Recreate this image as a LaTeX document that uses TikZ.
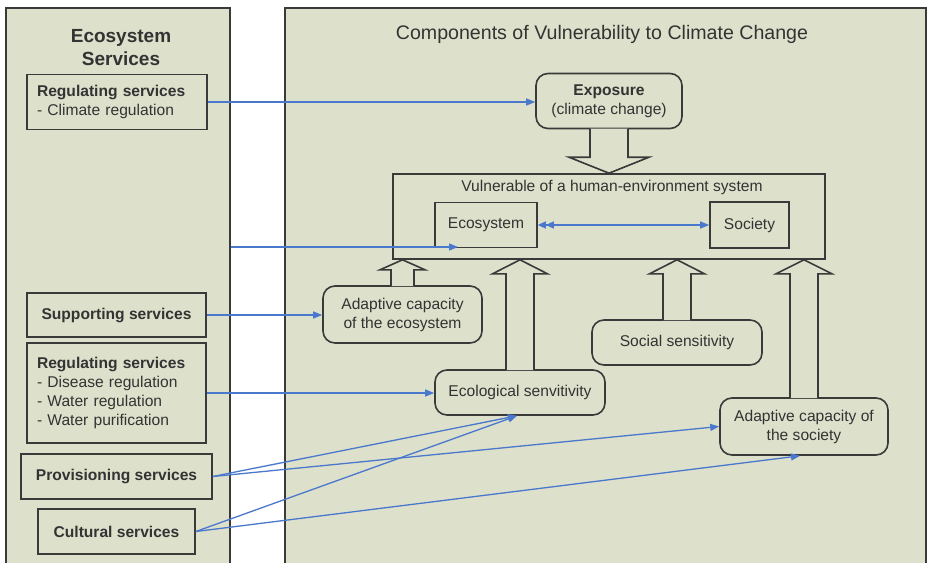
\documentclass[tikz,border=0pt]{standalone}
\usepackage{fontspec}
\setmainfont{Liberation Sans}
\usetikzlibrary{arrows.meta,calc}
\definecolor{panelfill}{HTML}{DDE0CB}
\definecolor{edgecol}{HTML}{3A3A3A}
\definecolor{txtcol}{HTML}{333333}
\definecolor{linkcol}{HTML}{4A78CC}
\newcommand{\BlockUp}[5]{%
  \path[blockarrow] let \p1=(#1.north), \p2=(#2.south) in
    (\x1-#3,\y1-0.8pt) -- (\x1-#3,\y2-#5) -- (\x1-#4,\y2-#5) -- (\x1,\y2)
    -- (\x1+#4,\y2-#5) -- (\x1+#3,\y2-#5) -- (\x1+#3,\y1-0.8pt);}
\begin{document}
\begin{tikzpicture}[x=1pt,y=-1pt,
  panel/.style={draw=edgecol, line width=1.5pt, fill=panelfill, inner sep=0pt},
  sbox/.style={draw=edgecol, line width=1.6pt, fill=panelfill, inner sep=0pt,
    text=txtcol, font=\fontsize{15.6}{19}\selectfont},
  bbox/.style={sbox, font=\bfseries\fontsize{15.6}{19}\selectfont},
  lbox/.style={sbox, align=left, inner xsep=10pt},
  rbox/.style={sbox, rounded corners=12pt, align=center},
  blockarrow/.style={draw=edgecol, line width=1.6pt, fill=panelfill, line join=miter},
  link/.style={draw=linkcol, line width=1.3pt, -{Triangle[length=9pt,width=7pt]}},
]
\useasboundingbox (0,0) rectangle (928,562);
\clip (0,0) rectangle (928,562);
\fill[white] (0,0) rectangle (928,562);

% panels
\node[panel, minimum width=224pt, minimum height=570pt, anchor=north west] (lpanel) at (5,7) {};
\node[panel, minimum width=641pt, minimum height=570pt, anchor=north west] (rpanel) at (284,7) {};

\node[font=\bfseries\fontsize{19}{23}\selectfont, text=txtcol, align=center] (lptitle) at (121,47.5) {Ecosystem\\Services};
\node[font=\fontsize{19.6}{22}\selectfont, text=txtcol] (rptitle) at (602,34) {Components of Vulnerability to Climate Change};

% left boxes
\node[lbox, minimum width=180pt, minimum height=55pt, text width=160pt] (reg1) at (117,102)
  {\textbf{Regulating services}\\- Climate regulation};
\node[bbox, minimum width=179pt, minimum height=44pt] (supp) at (116.5,315) {Supporting services};
\node[lbox, minimum width=179pt, minimum height=100pt, text width=159pt] (reg2) at (116.5,393)
  {\textbf{Regulating services}\\- Disease regulation\\- Water regulation\\- Water purification};
\node[bbox, minimum width=191pt, minimum height=45pt] (prov) at (116.5,476.5) {Provisioning services};
\node[bbox, minimum width=157pt, minimum height=45pt] (cult) at (116.5,531.5) {Cultural services};

% right side
\node[sbox, minimum width=432pt, minimum height=85pt] (vuln) at (609,216.5) {};
\node[text=txtcol, font=\fontsize{15.6}{18}\selectfont] (vulntitle) at (612,187) {Vulnerable of a human-environment system};
\node[sbox, minimum width=102pt, minimum height=45pt] (eco) at (486,225) {Ecosystem};
\node[sbox, minimum width=79pt, minimum height=46pt] (soc) at (749.5,225) {Society};

\node[rbox, minimum width=146pt, minimum height=55pt] (expo) at (609,101) {\textbf{Exposure}\\(climate change)};
\node[rbox, minimum width=159pt, minimum height=57pt] (aceco) at (402.5,314.5) {Adaptive capacity\\of the ecosystem};
\node[rbox, minimum width=170pt, minimum height=45pt] (ecosens) at (520,392.5) {Ecological senvitivity};
\node[rbox, minimum width=170pt, minimum height=45pt] (socsens) at (677,342.5) {Social sensitivity};
\node[rbox, minimum width=168pt, minimum height=57pt] (adsoc) at (804,426.5) {Adaptive capacity of\\the society};

% block arrows
\path[blockarrow] let \p1=(expo.south), \p2=(vuln.north) in
  (\x1-19pt,\y1+0.8pt) -- (\x1-19pt,\y2+16pt) -- (\x1-40pt,\y2+16pt) -- (\x1,\y2)
  -- (\x1+40pt,\y2+16pt) -- (\x1+19pt,\y2+16pt) -- (\x1+19pt,\y1+0.8pt);
\BlockUp{aceco}{vuln}{11.5pt}{22.5pt}{10pt}
\BlockUp{ecosens}{vuln}{14pt}{27.5pt}{14pt}
\BlockUp{socsens}{vuln}{14pt}{27.5pt}{14pt}
\BlockUp{adsoc}{vuln}{14pt}{28pt}{14pt}

% connectors
\coordinate (lpout) at (lpanel.east |- 0,247);
\coordinate (ecoin) at (458,247);
\draw[link] (reg1.east) -- (reg1.east -| expo.west);
\draw[link] (lpout) -- (ecoin);
\draw[link] (supp.east) -- (supp.east -| aceco.west);
\draw[link] (reg2.east) -- (reg2.east -| ecosens.west);
\draw[link, {Triangle[length=8pt,width=7pt] Triangle[length=8pt,width=7pt]}-{Triangle[length=9pt,width=7pt]}] (eco.east) -- (soc.west);
\draw[link] (prov.east) -- ([xshift=-3pt]ecosens.south);
\draw[link] (prov.east) -- (adsoc.west);
\draw[link] (cult.east) -- ([xshift=-3pt]ecosens.south);
\draw[link] (cult.east) -- ([xshift=-4pt]adsoc.south);
\end{tikzpicture}
\end{document}
